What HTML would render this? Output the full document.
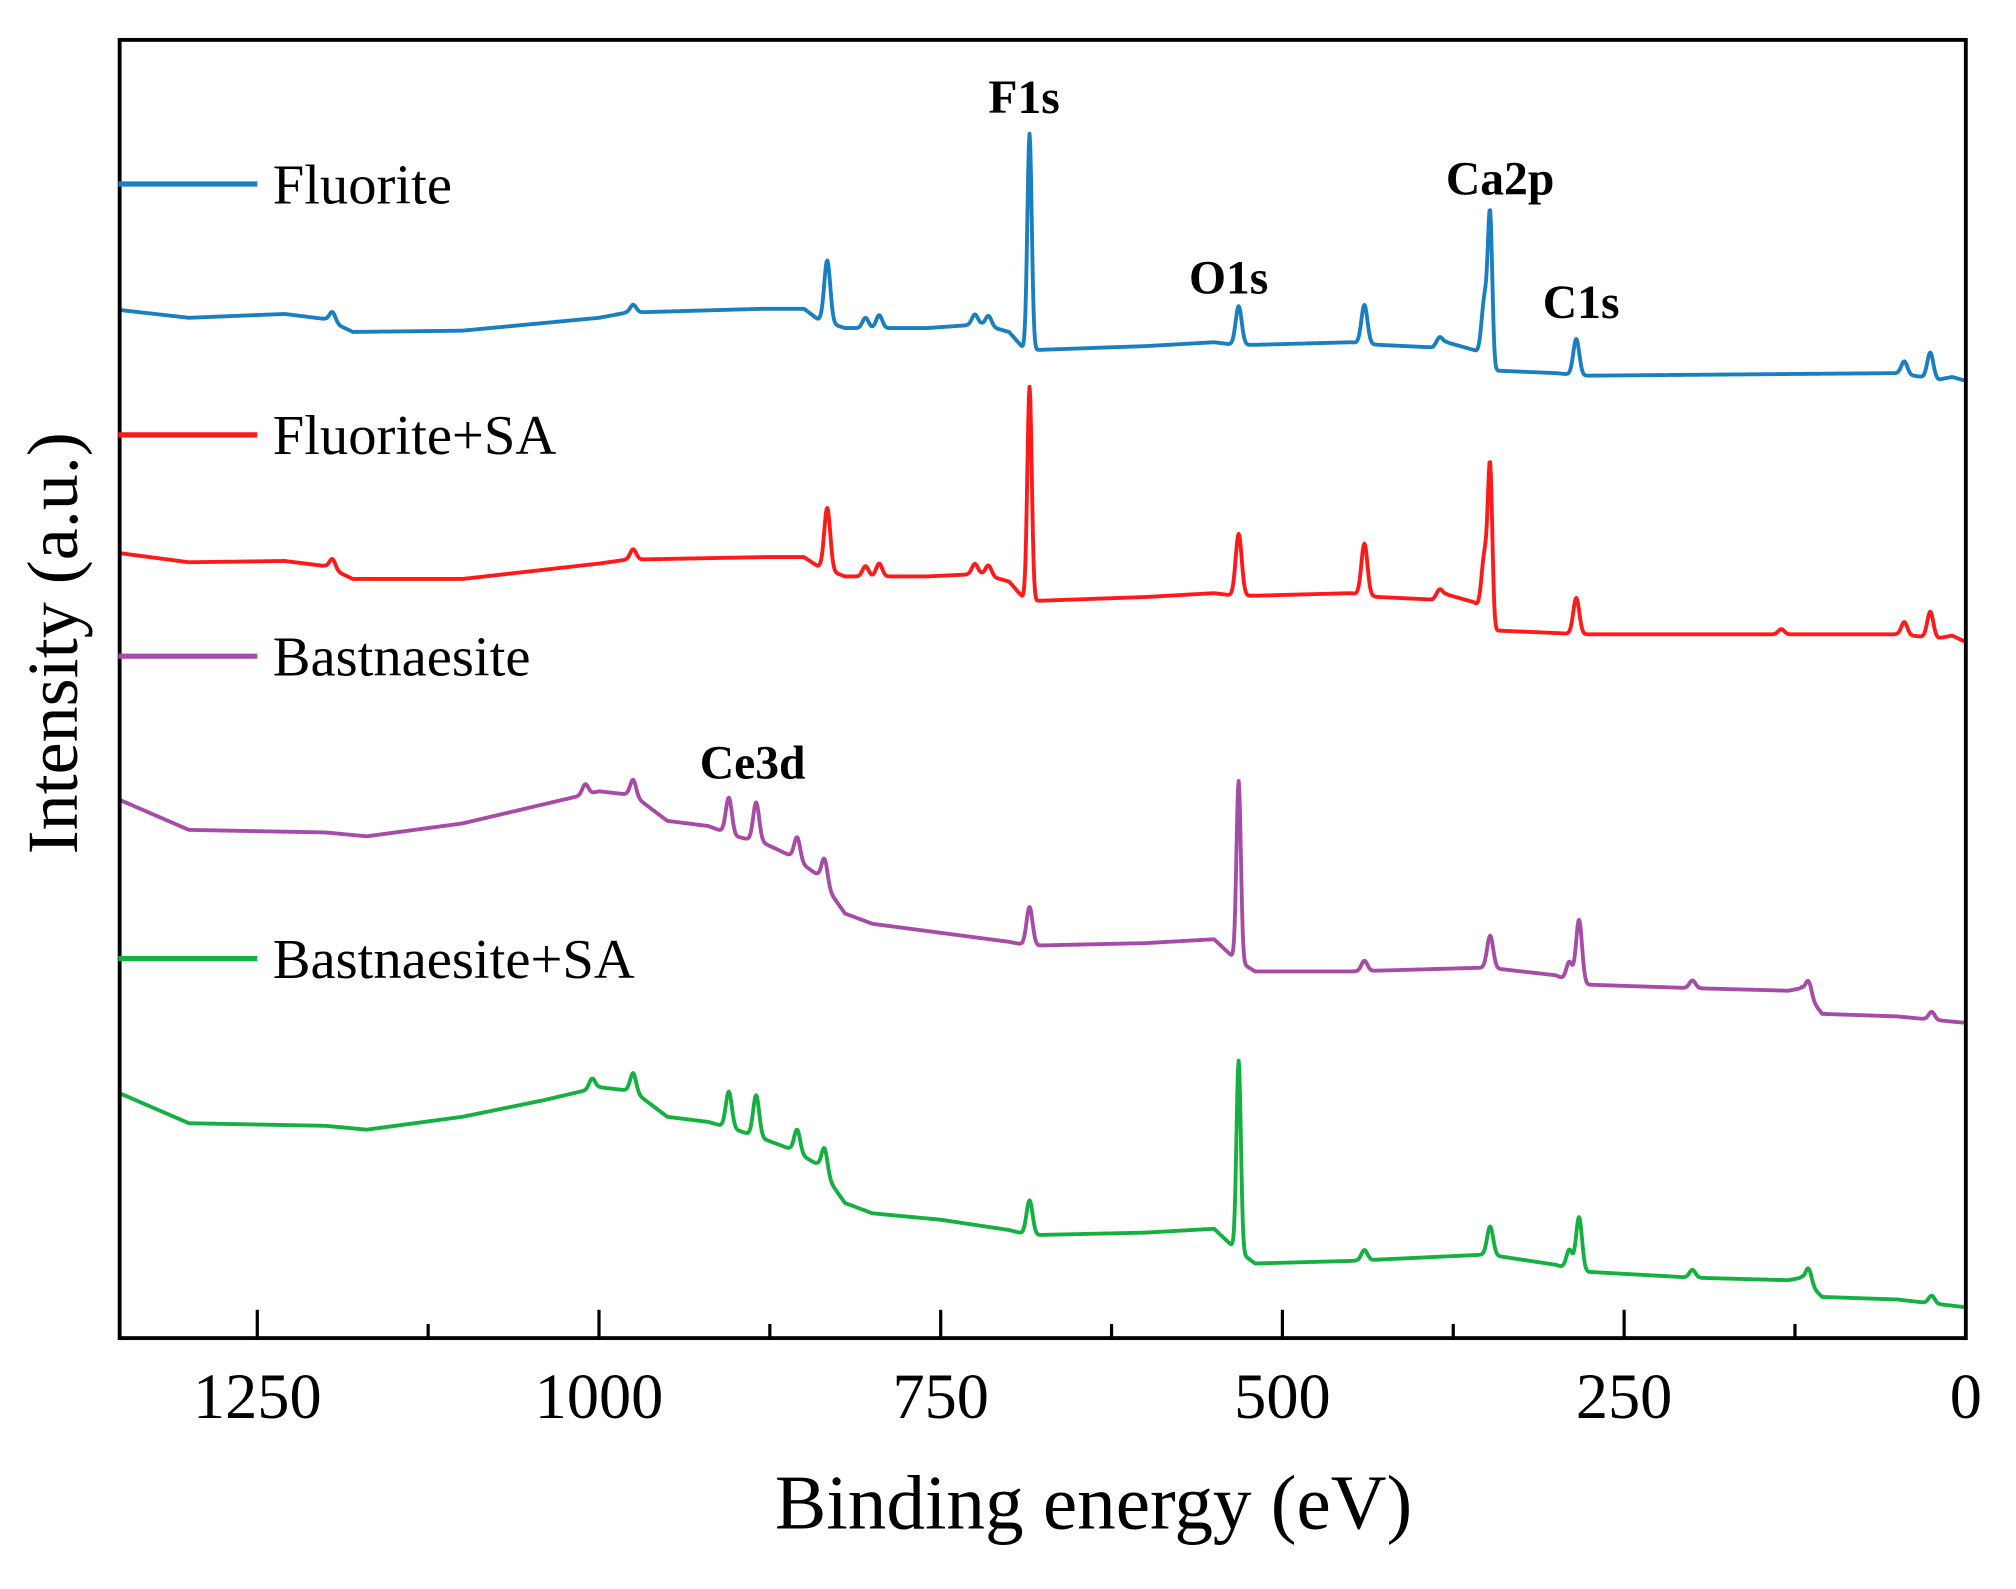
<!DOCTYPE html>
<html><head><meta charset="utf-8"><style>
html,body{margin:0;padding:0;background:#fff;}
svg{display:block;}
</style></head><body>
<svg id="chart" width="2016" height="1589" viewBox="0 0 1567 1235" preserveAspectRatio="none" xmlns="http://www.w3.org/2000/svg" font-family="'Liberation Serif', serif">
<rect x="0" y="0" width="1567" height="1235" fill="#fff"/>
<g id="series"></g>
<rect x="93" y="31" width="1435" height="1009" fill="none" stroke="#000" stroke-width="3"/>
<g id="ticks"></g>
<text x="850" y="1188" font-size="60" text-anchor="middle">Binding energy (eV)</text>
<text x="0" y="0" font-size="56" text-anchor="middle" transform="translate(60,500) rotate(-90)">Intensity (a.u.)</text>
<g id="legend"></g>
<g font-weight="bold" font-size="37">
<text x="796" y="88" text-anchor="middle">F1s</text>
<text x="1166" y="151" text-anchor="middle">Ca2p</text>
<text x="955" y="228" text-anchor="middle">O1s</text>
<text x="1229" y="247" text-anchor="middle">C1s</text>
<text x="585" y="605" text-anchor="middle">Ce3d</text>
</g>
</svg>
<script>
const xTicks = [1250, 1000, 750, 500, 250, 0];
const xMinorTicks = [1125, 875, 625, 375, 125];
const seriesNames = ["Fluorite", "Fluorite+SA", "Bastnaesite", "Bastnaesite+SA"];
const seriesColors = ["#1a7fc1", "#ff1a1a", "#a64ca6", "#14b040"];
const fluoriteBase = [[1350,799],[1300,793],[1230,796],[1200,792],[1180,782],[1100,783],[1000,793],[980,797],[880,800],[850,800],[840,792],[820,785],[760,785],[720,788],[700,782],[690,770],[680,768],[600,771],[550,774],[535,772],[520,772],[450,774],[430,772],[390,770],[380,774],[360,768],[350,762],[345,752],[300,750],[280,748],[50,750],[20,745],[10,747],[0,744]];
const fluoritePeaks = [[1195,8],[975,6],[833,48],[805,8],[795,10],[725,8],[715,8],[685,167],[532,30],[440,30],[385,6],[352,45],[348,110],[285,28],[45,10],[26,20]];
const fluoriteSAbase = [[1350,610],[1300,603],[1230,604],[1200,600],[1180,590],[1100,590],[1000,602],[980,605],[880,607],[850,607],[840,600],[820,592],[760,592],[720,594],[700,588],[690,576],[680,573],[600,576],[550,579],[535,577],[520,577],[450,579],[430,576],[390,574],[380,578],[360,572],[350,562],[345,550],[300,548],[280,547],[50,547],[20,544],[10,546],[0,541]];
const fluoriteSApeaks = [[1195,8],[975,8],[833,48],[805,8],[795,10],[725,8],[715,8],[685,165],[532,48],[440,40],[385,6],[352,45],[348,115],[285,28],[135,4],[45,10],[26,20]];
const bastBase = [[1350,418],[1300,395],[1200,393],[1170,390],[1100,400],[1040,415],[1000,425],[975,422],[950,402],[920,398],[900,390],[880,385],[860,375],[840,360],[820,330],[800,322],[750,315],[700,308],[685,305],[600,307],[550,310],[540,300],[535,295],[520,285],[450,285],[350,288],[300,282],[285,275],[200,272],[130,270],[120,272],[105,252],[50,250],[0,245]];
const bastPeaks = [[1010,8],[975,12],[905,28],[885,30],[855,18],[835,20],[685,30],[532,140],[440,8],[348,25],[290,15],[283,50],[200,6],[115,12],[25,6]];
const bastSAbase = [[1350,190],[1300,167],[1200,165],[1170,162],[1100,172],[1040,185],[1000,195],[975,192],[950,172],[920,168],[900,162],[880,155],[860,147],[840,135],[820,105],[800,97],[750,92],[700,84],[685,80],[600,82],[550,85],[540,75],[535,70],[520,58],[450,60],[350,65],[300,57],[285,52],[200,47],[130,45],[120,47],[105,32],[50,30],[0,24]];
const bastSApeaks = [[1005,8],[975,14],[905,28],[885,32],[855,18],[835,20],[685,27],[532,148],[440,8],[348,22],[290,15],[283,42],[200,6],[115,12],[25,6]];
const allBase = [fluoriteBase, fluoriteSAbase, bastBase, bastSAbase];
const allPeaks = [fluoritePeaks, fluoriteSApeaks, bastPeaks, bastSApeaks];
const legendY = [143, 338, 510, 745];

const NS = "http://www.w3.org/2000/svg";
function xs(ev){ return 1528 - ev*(1435/1350.7); }
function ys(v){ return 1040 - v; }
function interp(base, ev){
  for(let i=0;i<base.length-1;i++){
    const a=base[i], b=base[i+1];
    if(ev<=a[0] && ev>=b[0]){ const t=(a[0]-ev)/(a[0]-b[0]); return a[1]+t*(b[1]-a[1]); }
  }
  return base[base.length-1][1];
}
function valueAt(k, ev){
  let v = interp(allBase[k], ev);
  for(const p of allPeaks[k]){
    const w = p[1] > 100 ? 1.6 : 2.2;
    v += p[1]*Math.exp(-((ev-p[0])**2)/(2*w*w));
  }
  return v;
}
const sg = document.getElementById("series");
for(let k=0;k<4;k++){
  let d="";
  for(let ev=1350; ev>=0; ev-=0.5){
    d += (ev===1350?"M":"L") + xs(ev).toFixed(2) + "," + ys(valueAt(k,ev)).toFixed(2);
  }
  const p=document.createElementNS(NS,"path");
  p.setAttribute("d",d);
  p.setAttribute("fill","none");
  p.setAttribute("stroke",seriesColors[k]);
  p.setAttribute("stroke-width","3");
  p.setAttribute("stroke-linejoin","round");
  
  
  sg.appendChild(p);
}
const tg=document.getElementById("ticks");
for(const t of xTicks){
  const l=document.createElementNS(NS,"line");
  l.setAttribute("x1",xs(t)); l.setAttribute("x2",xs(t));
  l.setAttribute("y1",1040); l.setAttribute("y2",1018);
  l.setAttribute("stroke","#000"); l.setAttribute("stroke-width","2.5");
  
  
  tg.appendChild(l);
  const tx=document.createElementNS(NS,"text");
  tx.setAttribute("x",xs(t)); tx.setAttribute("y",1102);
  tx.setAttribute("font-size","50"); tx.setAttribute("text-anchor","middle");
  tx.textContent=t;
  
  
  tg.appendChild(tx);
}
for(const t of xMinorTicks){
  const l=document.createElementNS(NS,"line");
  l.setAttribute("x1",xs(t)); l.setAttribute("x2",xs(t));
  l.setAttribute("y1",1040); l.setAttribute("y2",1029);
  l.setAttribute("stroke","#000"); l.setAttribute("stroke-width","2.5");
  
  
  tg.appendChild(l);
}
const lg=document.getElementById("legend");
for(let k=0;k<4;k++){
  const l=document.createElementNS(NS,"line");
  l.setAttribute("x1",92); l.setAttribute("x2",200);
  l.setAttribute("y1",legendY[k]); l.setAttribute("y2",legendY[k]);
  l.setAttribute("stroke",seriesColors[k]); l.setAttribute("stroke-width","4");
  
  
  lg.appendChild(l);
  const tx=document.createElementNS(NS,"text");
  tx.setAttribute("x",212); tx.setAttribute("y",legendY[k]+15);
  tx.setAttribute("font-size","44");
  tx.textContent=seriesNames[k];
  
  
  lg.appendChild(tx);
}
</script>
</body></html>
